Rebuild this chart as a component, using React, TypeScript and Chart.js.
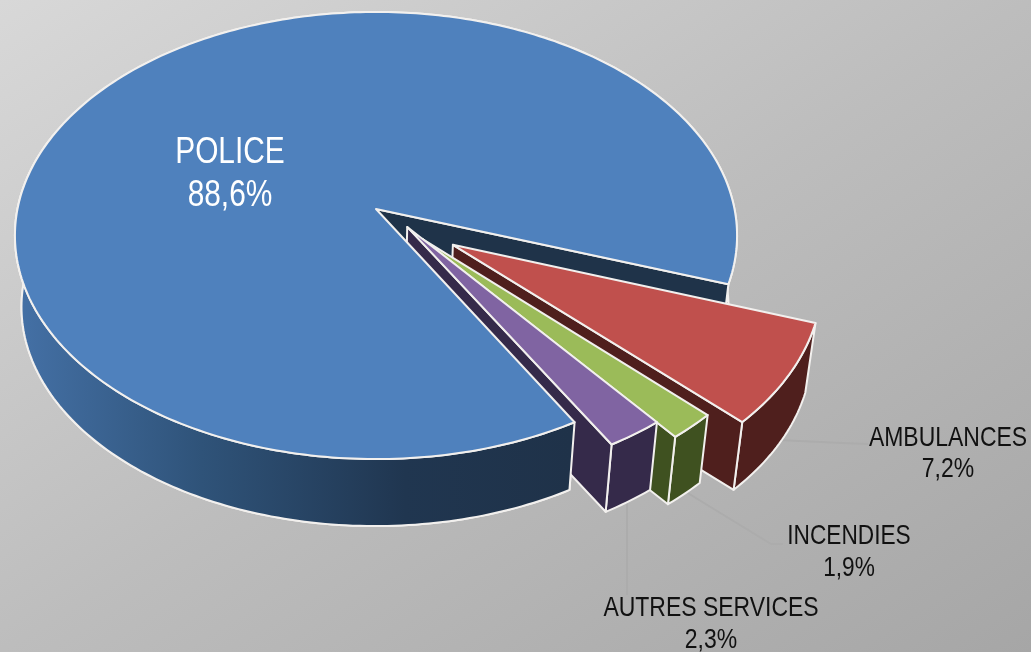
import React, { useEffect, useRef } from "react";
import { Chart, registerables } from "chart.js";

Chart.register(...registerables);

const categories = ["POLICE", "AMBULANCES", "INCENDIES", "AUTRES SERVICES"];
const shares = [88.6, 7.2, 1.9, 2.3];
const explode = [0, 76, 53, 34];

const topColors = ["#4f81bd", "#c0504d", "#9bbb59", "#8064a2"];
const wallColors = ["#1f3349", "#4f1f1d", "#3f5120", "#352a4a"];
const explodeSkew = [0, 5, -2, -13];

const labelX = [230, 948, 849, 711];
const labelY = [[163, 206], [446, 477], [544, 576], [616, 648]];
const labelSize = [36, 28, 28, 28];
const labelSqueeze = [0.83, 0.82, 0.81, 0.82];
const labelColor = ["#ffffff", "#111111", "#111111", "#111111"];
const leaders = [
  [],
  [[778, 440], [842, 443], [868, 444]],
  [[686, 492], [771, 544], [783, 544]],
  [[627, 498], [627, 595]],
];

const P = 0.1186;
const top = { cx: 376, cy: 209, a: 358.5, b: 220.4 };
const bottom = { cx: 375, cy: 281, a: 351, b: 216 };

type Plane = typeof top;
const project = (u: number, v: number, pl: Plane): [number, number] => {
  const w = 1 - P * v;
  return [pl.cx + (pl.a * u) / w, pl.cy + (pl.b * v) / w];
};

const trace = (ctx: CanvasRenderingContext2D, pts: [number, number][]) => {
  ctx.beginPath();
  pts.forEach((p, i) => (i ? ctx.lineTo(p[0], p[1]) : ctx.moveTo(p[0], p[1])));
  ctx.closePath();
};

const pie3d = {
  id: "pie3d",
  beforeDraw(chart: any) {
    const { ctx, width: w, height: h } = chart;
    const k = (w * h) / (w * w + h * h);
    const g = ctx.createLinearGradient(w / 2 - h * k, h / 2 - w * k, w / 2 + h * k, h / 2 + w * k);
    g.addColorStop(0, "#d8d8d8");
    g.addColorStop(0.5, "#bdbdbd");
    g.addColorStop(1, "#a6a6a6");
    ctx.fillStyle = g;
    ctx.fillRect(0, 0, w, h);
  },
  beforeDatasetDraw(chart: any) {
    const ctx: CanvasRenderingContext2D = chart.ctx;
    const arcs = chart.getDatasetMeta(0).data;
    ctx.save();
    ctx.lineJoin = "round";
    ctx.strokeStyle = "#f2f0ee";
    ctx.lineWidth = 2;

    leaders.forEach((l) => {
      if (!l.length) return;
      ctx.beginPath();
      l.forEach((p, i) => (i ? ctx.lineTo(p[0], p[1]) : ctx.moveTo(p[0], p[1])));
      ctx.save();
      ctx.strokeStyle = "#acacac";
      ctx.stroke();
      ctx.restore();
    });

    const policeGradient = ctx.createLinearGradient(20, 0, 570, 0);
    policeGradient.addColorStop(0, "#4470a5");
    policeGradient.addColorStop(0.33, "#2f5379");
    policeGradient.addColorStop(0.7, "#203650");
    policeGradient.addColorStop(1, "#1f3249");

    const shape = (i: number) => {
      const arc = arcs[i];
      const s = arc.startAngle;
      const e = arc.endAngle;
      const R = arc.outerRadius;
      const mid = (s + e) / 2 + (explodeSkew[i] * Math.PI) / 180;
      const off = (arc.options.offset || 0) / R;
      const du = off * Math.cos(mid);
      const dv = off * Math.sin(mid);
      const rim = (pl: Plane, from: number, to: number) => {
        const n = Math.max(4, Math.ceil(((to - from) * 180) / Math.PI));
        const out: [number, number][] = [];
        for (let k = 0; k <= n; k++) {
          const t = from + ((to - from) * k) / n;
          out.push(project(du + Math.cos(t), dv + Math.sin(t), pl));
        }
        return out;
      };
      const wall = (from: number, to: number, fill: any) => {
        trace(ctx, [...rim(top, from, to), ...rim(bottom, from, to).reverse()]);
        ctx.fillStyle = fill;
        ctx.fill();
        ctx.stroke();
      };
      const cut = (fill: any) => {
        trace(ctx, [project(du, dv, top), project(du + Math.cos(e), dv + Math.sin(e), top), project(du + Math.cos(e), dv + Math.sin(e), bottom), project(du, dv, bottom)]);
        ctx.fillStyle = fill;
        ctx.fill();
        ctx.stroke();
      };
      const face = () => {
        trace(ctx, [project(du, dv, top), ...rim(top, s, e)]);
        ctx.fillStyle = topColors[i];
        ctx.fill();
        ctx.stroke();
      };
      return { s, e, wall, cut, face };
    };

    // the far part of the police slice sits behind the exploded slices
    const police = shape(0);
    police.wall(police.s, police.e, policeGradient);
    police.cut(wallColors[0]);

    [1, 2, 3].forEach((i) => {
      const sl = shape(i);
      sl.wall(sl.s, sl.e, wallColors[i]);
      sl.cut(wallColors[i]);
      sl.face();
    });

    // its near part and top face sit in front of them
    police.wall(police.s, police.s + (140 * Math.PI) / 180, policeGradient);
    police.face();

    ctx.textAlign = "center";
    ctx.textBaseline = "alphabetic";
    categories.forEach((name, i) => {
      ctx.font = `${labelSize[i]}px "Liberation Sans"`;
      ctx.fillStyle = labelColor[i];
      [name, `${String(shares[i]).replace(".", ",")}%`].forEach((line, j) => {
        ctx.save();
        ctx.translate(labelX[i], labelY[i][j]);
        ctx.scale(labelSqueeze[i], 1);
        ctx.fillText(line, 0, 0);
        ctx.restore();
      });
    });
    ctx.restore();
    return false;
  },
};

export default function App() {
  const ref = useRef<HTMLCanvasElement>(null);
  useEffect(() => {
    document.body.style.margin = "0";
    const chart = new Chart(ref.current as HTMLCanvasElement, {
      type: "pie",
      data: {
        labels: categories,
        datasets: [
          {
            data: shares,
            backgroundColor: topColors,
            offset: explode,
            borderWidth: 0,
          },
        ],
      },
      options: {
        responsive: false,
        animation: false,
        devicePixelRatio: 1,
        rotation: 150.2,
        layout: { padding: 0 },
        plugins: { legend: { display: false }, tooltip: { enabled: false } },
      },
      plugins: [pie3d],
    } as any);
    return () => chart.destroy();
  }, []);
  return <canvas ref={ref} width={1031} height={652} style={{ display: "block" }} />;
}
